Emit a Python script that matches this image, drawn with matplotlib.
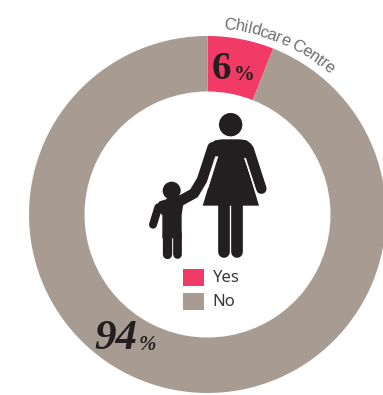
import numpy as np
import matplotlib
matplotlib.use('agg')
import matplotlib.pyplot as plt
from matplotlib.patches import Circle, Polygon, Rectangle

# share of respondents
categories = ['Yes', 'No']
values = [6, 94]
colours = ['#F23A66', '#A89C92']
arc_label = 'Childcare Centre'

W, H = 383, 395
DARK = '#231F20'

fig = plt.figure(figsize=(W / 100, H / 100), dpi=100)
ax = fig.add_axes([0, 0, 1, 1])

# donut
cx, cy, r = 207.5, H - 214.5, 178.5
ax.pie(values, colors=colours, startangle=90, counterclock=False,
       center=(cx, cy), radius=r, wedgeprops={'width': r - 123, 'linewidth': 0})
ax.set_xlim(0, W)
ax.set_ylim(0, H)
ax.set_aspect('auto')
ax.axis('off')


def zp(pts):
    # icon outlines are laid out on a 3x grid starting at (130, 100)
    return [(130 + x / 3, H - (100 + y / 3)) for x, y in pts]


def limb(pts, width):
    xy = np.array(zp(pts))
    ax.plot(xy[:, 0], xy[:, 1], color=DARK, lw=width * 0.72,
            solid_capstyle='round', solid_joinstyle='round')


# mother
ax.add_patch(Circle(zp([(302, 74)])[0], 11.7, color=DARK, lw=0))
ax.add_patch(Polygon(zp([(240, 132), (255, 121), (275, 118), (330, 118), (350, 121), (364, 132),
                         (376, 165), (344, 175), (387, 317), (218, 317), (263, 170),
                         (226, 165)]), color=DARK, lw=0))
limb([(356, 148), (394, 266)], 10.5)
limb([(248, 142), (216, 240), (192, 280), (150, 303), (120, 308)], 10.5)
limb([(281, 310), (281, 456)], 11.7)
limb([(322, 310), (322, 456)], 11.7)
# slits between arms and dress
ax.plot(*np.array(zp([(263, 170), (234, 262)])).T, color='white', lw=0.7)
ax.plot(*np.array(zp([(344, 175), (382, 285)])).T, color='white', lw=0.7)

# child
ax.add_patch(Circle(zp([(125, 272)])[0], 9, color=DARK, lw=0))
ax.add_patch(Polygon(zp([(75, 325), (88, 304), (105, 299), (140, 299), (160, 312), (155, 345),
                         (155, 415), (97, 415), (97, 345)]), color=DARK, lw=0))
limb([(85, 322), (69, 374)], 8)
limb([(111, 400), (111, 462)], 9.3)
limb([(142, 400), (142, 462)], 8.7)

# legend
for (colour, name, top) in zip(colours, categories, [269, 293]):
    ax.add_patch(Rectangle((183, H - top - 17), 21, 17, color=colour, lw=0))
    ax.text(212.5, H - top - 9, name, fontsize=12, family='Noto Sans', color='#3a3536',
            va='center', ha='left')

# percentages
serif = dict(family='Liberation Serif', color=DARK, weight='bold', va='baseline')
ax.text(212, H - 79, '%d' % values[0], fontsize=28, **serif)
ax.text(234, H - 80, '%', fontsize=15, **serif)
ax.text(94, H - 349, '%d' % values[1], fontsize=31, style='italic', **serif)
ax.text(139, H - 350, '%', fontsize=15, style='italic', **serif)

# label set along the outside of the ring
fig.canvas.draw()
rend = fig.canvas.get_renderer()
font = dict(family='Liberation Sans', fontsize=12, color='#6D6E71')
probe = ax.text(0, 0, '|', **font)
bar_w = probe.get_window_extent(rend).width


def advance(s):
    # width of s, measured with a trailing bar so spaces count
    probe.set_text(s + '|')
    return probe.get_window_extent(rend).width - bar_w


start = np.radians(5.0)
base_r = 186
squeeze = 0.93  # tighter than the font's own spacing
for i, ch in enumerate(arc_label):
    before = advance(arc_label[:i])
    w = advance(arc_label[:i + 1]) - before
    mid = start + squeeze * (before + w / 2) / base_r
    ax.text(cx + base_r * np.sin(mid), cy + base_r * np.cos(mid), ch,
            rotation=-np.degrees(mid), rotation_mode='anchor',
            ha='center', va='baseline', **font)
probe.remove()

fig.savefig('out.png', dpi=100, facecolor='white')
